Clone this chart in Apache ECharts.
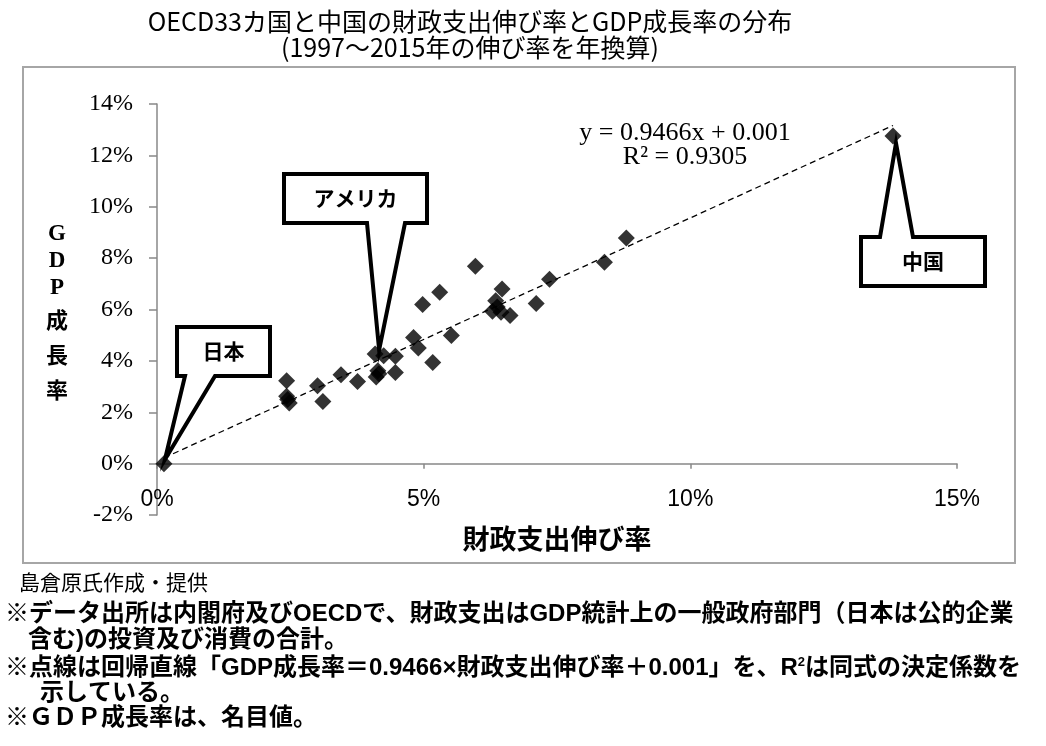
<!DOCTYPE html>
<html>
<head>
<meta charset="utf-8">
<title>OECD33カ国と中国の財政支出伸び率とGDP成長率の分布</title>
<script src="https://cdn.jsdelivr.net/npm/echarts@6/dist/echarts.min.js"></script>
<style>
html,body{margin:0;padding:0;background:#fff;}
#chart{width:1046px;height:746px;}
</style>
</head>
<body>
<div id="chart"></div>
<script>
// 財政支出伸び率（%、年換算）
var spendGrowth = [0.13, 2.43, 2.43, 2.48, 2.45, 3.01, 3.11, 3.45, 3.76, 4.09,
                   4.25, 4.47, 4.14, 4.11, 4.47, 4.16, 4.81, 4.90, 5.17, 5.52,
                   4.98, 5.30, 5.97, 6.47, 6.35, 6.29, 6.45, 6.62, 6.38, 7.11,
                   7.36, 8.39, 8.80, 13.80];
// GDP成長率（%、名目、年換算）
var gdpGrowth = [0.00, 3.23, 2.62, 2.36, 2.50, 3.03, 2.42, 3.46, 3.20, 4.27,
                 4.20, 4.18, 3.62, 3.37, 3.55, 3.50, 4.91, 4.50, 3.94, 4.99,
                 6.19, 6.67, 7.68, 6.80, 6.34, 5.93, 5.89, 5.77, 6.10, 6.23,
                 7.18, 7.84, 8.78, 12.75];
// 吹き出しを付ける国（配列の番号）
var calloutNames = ['日本', 'アメリカ', '中国'];
var calloutIndex = [0, 9, 33];
// 回帰直線 y = 0.9466x + 0.001（%表示なので切片は0.1）
var trendSlope = 0.9466;
var trendIntercept = 0.1;
var xTicks = [0, 15, 5];   // min, max, interval
var yTicks = [-2, 14, 2];

var titleLines = ['OECD33カ国と中国の財政支出伸び率とGDP成長率の分布', '(1997～2015年の伸び率を年換算)'];
var noteLines = [
    '※データ出所は内閣府及びOECDで、財政支出はGDP統計上の一般政府部門（日本は公的企業',
    '含む)の投資及び消費の合計。',
    '※点線は回帰直線「GDP成長率＝0.9466×財政支出伸び率＋0.001」を、R{sup|2}は同式の決定係数を',
    '示している。',
    '※ＧＤＰ成長率は、名目値。'
];

var points = spendGrowth.map(function(x, i){ return [x, gdpGrowth[i]]; });
var xLo = Math.min.apply(null, spendGrowth), xHi = Math.max.apply(null, spendGrowth);
var trendData = [[xLo, trendSlope * xLo + trendIntercept], [xHi, trendSlope * xHi + trendIntercept]];

var CJK = '"Noto Sans CJK JP"';
var chart = echarts.init(document.getElementById('chart'));

chart.setOption({
    backgroundColor: '#fff',
    animation: false,
    grid: {left: 157, right: 89, top: 104, bottom: 231, containLabel: false},
    xAxis: {
        type: 'value', min: xTicks[0], max: xTicks[1], interval: xTicks[2],
        name: '財政支出伸び率', nameLocation: 'middle', nameGap: 10, nameMoveOverlap: false,
        nameTextStyle: {fontFamily: CJK, fontSize: 27, fontWeight: 'bold', color: '#000'},
        axisLine: {show: true, onZero: true, lineStyle: {color: '#888', width: 1.5}},
        axisTick: {show: true, length: 5, lineStyle: {color: '#888', width: 1.5}},
        axisLabel: {formatter: '{value}%', margin: -27, fontFamily: '"Liberation Sans"', fontSize: 23, color: '#000'},
        splitLine: {show: false}
    },
    yAxis: {
        type: 'value', min: yTicks[0], max: yTicks[1], interval: yTicks[2],
        axisLine: {show: true, onZero: false, lineStyle: {color: '#888', width: 1.5}},
        axisTick: {show: true, length: 8, lineStyle: {color: '#888', width: 1.5}},
        axisLabel: {formatter: '{value}%', margin: 24, fontFamily: '"Liberation Serif"', fontSize: 24, color: '#000'},
        splitLine: {show: false}
    },
    series: [
        {
            type: 'line', data: trendData, symbol: 'none', silent: true, z: 2,
            lineStyle: {color: '#000', width: 1.3, type: [6, 4]}
        },
        {
            type: 'scatter', data: points, symbol: 'diamond', symbolSize: 17, z: 3,
            itemStyle: {color: '#000'}
        }
    ]
});

//吹き出しの形（箱＋尖り）
var calloutShape = function(box, baseL, baseR, tip, side){
    var x0 = box[0], y0 = box[1], x1 = box[2], y1 = box[3];
    if (side == 'bottom'){
        return [[x0, y0], [x1, y0], [x1, y1], [baseR, y1], tip, [baseL, y1], [x0, y1]];
    }
    return [[x0, y0], [baseL, y0], tip, [baseR, y0], [x1, y0], [x1, y1], [x0, y1]];
};

var tipOf = function(k, dx, dy){
    var p = chart.convertToPixel({gridIndex: 0}, points[calloutIndex[k]]);
    return [p[0] + dx, p[1] + dy];
};

var callouts = [
    {box: [177, 327, 270, 376], baseL: 185, baseR: 215, tip: tipOf(0, 1, -4), side: 'bottom'},
    {box: [284, 174, 427, 223], baseL: 367, baseR: 405, tip: tipOf(1, 4, -4), side: 'bottom'},
    {box: [861, 237, 985, 286], baseL: 880, baseR: 913, tip: tipOf(2, 3, 7), side: 'top'}
];

var graphics = [];
// 外枠
graphics.push({type: 'rect', z: 0, silent: true,
    shape: {x: 23, y: 67, width: 992, height: 496},
    style: {fill: 'none', stroke: '#a6a6a6', lineWidth: 2}});
// タイトル
titleLines.forEach(function(t, i){
    graphics.push({type: 'text', z: 10, style: {
        text: t, x: 470, y: 21 + i * 26, align: 'center', verticalAlign: 'middle',
        textAlign: 'center', textVerticalAlign: 'middle',
        font: 'normal 25px "Liberation Sans Narrow", ' + CJK, fill: '#000'}});
});
// 縦軸タイトル
graphics.push({type: 'text', z: 10, style: {
    text: '{a|G}\n{a|D}\n{a|P}\n{b|成}\n{b|長}\n{b|率}', x: 57, y: 314,
    align: 'center', verticalAlign: 'middle', textAlign: 'center', textVerticalAlign: 'middle',
    rich: {
        a: {fontFamily: '"Liberation Serif"', fontWeight: 'bold', fontSize: 23, lineHeight: 27, align: 'center'},
        b: {fontFamily: CJK, fontWeight: 'bold', fontSize: 22, lineHeight: 35, align: 'center'}
    }}});
// 回帰式
graphics.push({type: 'text', z: 10, style: {
    text: 'y = 0.9466x + 0.001', x: 685, y: 133, align: 'center', verticalAlign: 'middle',
    textAlign: 'center', textVerticalAlign: 'middle', font: 'normal 26px "Liberation Serif"', fill: '#000'}});
graphics.push({type: 'text', z: 10, style: {
    text: 'R² = 0.9305', x: 685, y: 157, align: 'center', verticalAlign: 'middle',
    textAlign: 'center', textVerticalAlign: 'middle', font: 'normal 26px "Liberation Serif"', fill: '#000'}});
// 吹き出し
callouts.forEach(function(c, k){
    graphics.push({type: 'polygon', z: 20, silent: true,
        shape: {points: calloutShape(c.box, c.baseL, c.baseR, c.tip, c.side)},
        style: {fill: '#fff', stroke: '#000', lineWidth: 4, lineJoin: 'miter'}});
    graphics.push({type: 'text', z: 21, style: {
        text: calloutNames[k], x: (c.box[0] + c.box[2]) / 2, y: (c.box[1] + c.box[3]) / 2,
        align: 'center', verticalAlign: 'middle', textAlign: 'center', textVerticalAlign: 'middle',
        font: 'bold 21px ' + CJK, fill: '#000'}});
});
// 出典・注記
graphics.push({type: 'text', z: 10, style: {
    text: '島倉原氏作成・提供', x: 19, y: 582, verticalAlign: 'middle', textVerticalAlign: 'middle',
    font: 'normal 21px ' + CJK, fill: '#000'}});
var noteX = [5, 28, 5, 40, 5];
var noteY = [614, 640, 668, 693, 718];
noteLines.forEach(function(t, i){
    graphics.push({type: 'text', z: 10, style: {
        text: t, x: noteX[i], y: noteY[i], verticalAlign: 'middle', textVerticalAlign: 'middle',
        font: 'bold 24px "Liberation Sans", ' + CJK, fill: '#000',
        rich: {sup: {fontSize: 13, fontWeight: 'bold', fontFamily: '"Liberation Sans"', verticalAlign: 'top', padding: [0, 0, 10, 0]}}}});
});

chart.setOption({graphic: graphics});
</script>
</body>
</html>
